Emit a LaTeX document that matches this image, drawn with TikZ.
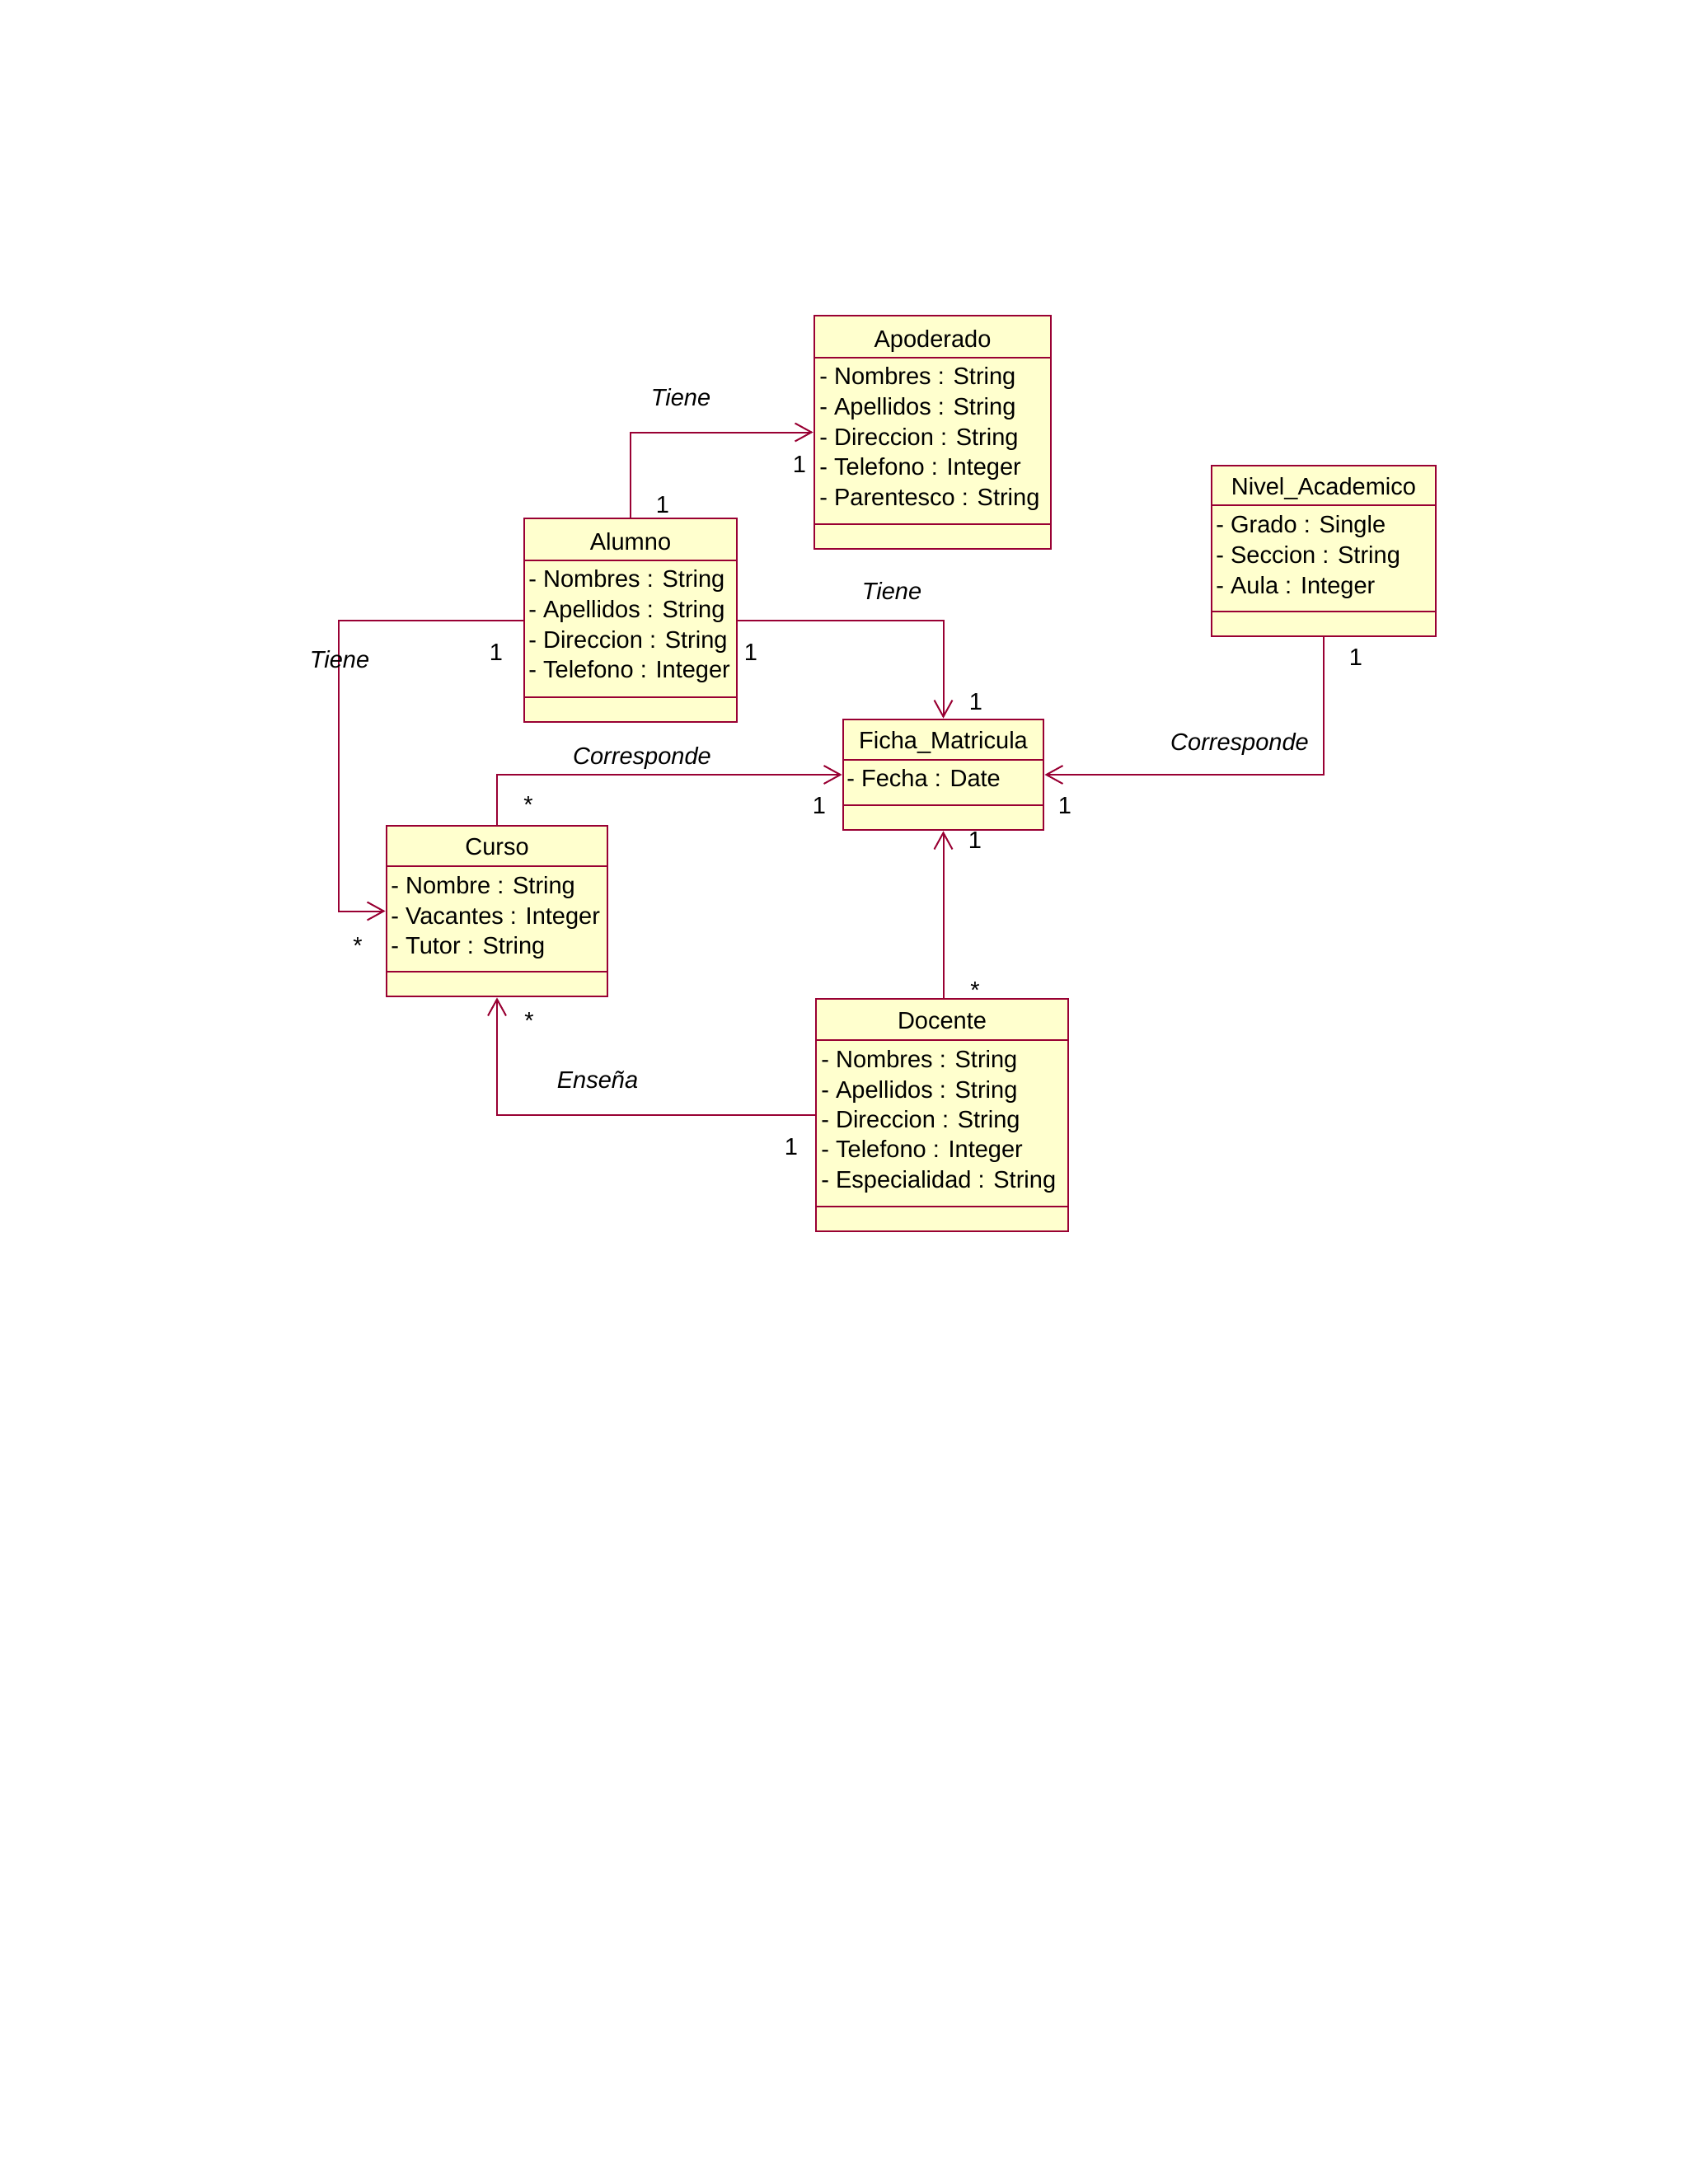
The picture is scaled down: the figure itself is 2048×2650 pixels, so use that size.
\documentclass[tikz,border=0pt]{standalone}
\usepackage{fontspec}
\setmainfont{Liberation Sans}
\usetikzlibrary{arrows.meta,fit}
\definecolor{umlred}{RGB}{153,0,51}
\definecolor{umlfill}{RGB}{255,255,206}
\newcommand{\umlfont}{\fontsize{14.5pt}{17pt}\selectfont}
\begin{document}
\begin{tikzpicture}[x=0.5pt,y=-0.5pt,
  cls/.style={draw=umlred, fill=umlfill, line width=1.4pt, inner sep=0pt},
  divline/.style={draw=umlred, line width=1.4pt},
  cname/.style={inner sep=0pt, font=\umlfont, text height=0.73em, text depth=0.21em, yshift=-1.5pt},
  attr/.style={anchor=west, inner sep=0pt, font=\umlfont, text height=0.73em, text depth=0.21em, yshift=-2pt},
  conn/.style={draw=umlred, line width=1pt, -{Straight Barb[length=10pt,width=11pt]}},
  assoc/.style={inner sep=0pt, font=\umlfont\itshape},
  mult/.style={inner sep=0pt, font=\umlfont}
]
\useasboundingbox[fill=white] (0,0) rectangle (2048,2650);

% Apoderado
\node[cls, fit={(988,383) (1275,666)}] (apoderado) {};
\draw[divline] (988,434) -- (1275,434);
\draw[divline] (988,636) -- (1275,636);
\node[cname] (apoderadoN) at (1131.5,413) {Apoderado};
\node[attr] (apo1) at (994,457) {- Nombres : String};
\node[attr] (apo2) at (994,494) {- Apellidos : String};
\node[attr] (apo3) at (994,531) {- Direccion : String};
\node[attr] (apo4) at (994,567) {- Telefono : Integer};
\node[attr] (apo5) at (994,604) {- Parentesco : String};

% Alumno
\node[cls, fit={(636,629) (894,876)}] (alumno) {};
\draw[divline] (636,680) -- (894,680);
\draw[divline] (636,846) -- (894,846);
\node[cname] (alumnoN) at (765,659) {Alumno};
\node[attr] (alu1) at (641,703) {- Nombres : String};
\node[attr] (alu2) at (641,740) {- Apellidos : String};
\node[attr] (alu3) at (641,777) {- Direccion : String};
\node[attr] (alu4) at (641,813) {- Telefono : Integer};

% Ficha_Matricula
\node[cls, fit={(1023,873) (1266,1007)}] (ficha) {};
\draw[divline] (1023,922) -- (1266,922);
\draw[divline] (1023,977) -- (1266,977);
\node[cname] (fichaN) at (1144.5,900) {Ficha\_Matricula};
\node[attr] (fic1) at (1027,945) {- Fecha : Date};

% Nivel_Academico
\node[cls, fit={(1470,565) (1742,772)}] (nivel) {};
\draw[divline] (1470,613) -- (1742,613);
\draw[divline] (1470,742) -- (1742,742);
\node[cname] (nivelN) at (1606,592) {Nivel\_Academico};
\node[attr] (niv1) at (1475,637) {- Grado : Single};
\node[attr] (niv2) at (1475,674) {- Seccion : String};
\node[attr] (niv3) at (1475,711) {- Aula : Integer};

% Curso
\node[cls, fit={(469,1002) (737,1209)}] (curso) {};
\draw[divline] (469,1051) -- (737,1051);
\draw[divline] (469,1179) -- (737,1179);
\node[cname] (cursoN) at (603,1029) {Curso};
\node[attr] (cur1) at (474,1075) {- Nombre : String};
\node[attr] (cur2) at (474,1112) {- Vacantes : Integer};
\node[attr] (cur3) at (474,1148) {- Tutor : String};

% Docente
\node[cls, fit={(990,1212) (1296,1494)}] (docente) {};
\draw[divline] (990,1262) -- (1296,1262);
\draw[divline] (990,1464) -- (1296,1464);
\node[cname] (docenteN) at (1143,1240) {Docente};
\node[attr] (doc1) at (996,1286) {- Nombres : String};
\node[attr] (doc2) at (996,1323) {- Apellidos : String};
\node[attr] (doc3) at (996,1359) {- Direccion : String};
\node[attr] (doc4) at (996,1395) {- Telefono : Integer};
\node[attr] (doc5) at (996,1432) {- Especialidad : String};

% connectors
\coordinate (bendTiene) at (411,1105.5);
\draw[conn] (alumno.north) |- (apoderado.west);
\draw[conn] (alumno.east) -| (ficha.north);
\draw[conn] (alumno.west) -| (bendTiene) -- (curso.west);
\draw[conn] (curso.north) |- (ficha.west);
\draw[conn] (nivel.south) |- (ficha.east);
\draw[conn] (ficha.south |- docente.north) -- (ficha.south);
\draw[conn] (docente.west) -| (curso.south);

% association names
\node[assoc] (l1) at (826,482) {Tiene};
\node[assoc] (l2) at (1082,717) {Tiene};
\node[assoc] (l3) at (412,800) {Tiene};
\node[assoc] (l4) at (779,920) {Corresponde};
\node[assoc] (l5) at (1504,903) {Corresponde};
\node[assoc] (l6) at (725,1310) {Enseña};

% multiplicities
\node[mult] (m1) at (804,613) {1};
\node[mult] (m2) at (970,564) {1};
\node[mult] (m3) at (602,792) {1};
\node[mult] (m4) at (911,792) {1};
\node[mult] (m5) at (1184,852) {1};
\node[mult] (m6) at (1645,798) {1};
\node[mult] (m7) at (1292,978) {1};
\node[mult] (m8) at (994,978) {1};
\node[mult] (m9) at (1183,1020) {1};
\node[mult] (m10) at (960,1392) {1};
\node[mult] (s1) at (641,977) {*};
\node[mult] (s2) at (434,1148) {*};
\node[mult] (s3) at (1183,1202) {*};
\node[mult] (s4) at (642,1239) {*};
\end{tikzpicture}
\end{document}
